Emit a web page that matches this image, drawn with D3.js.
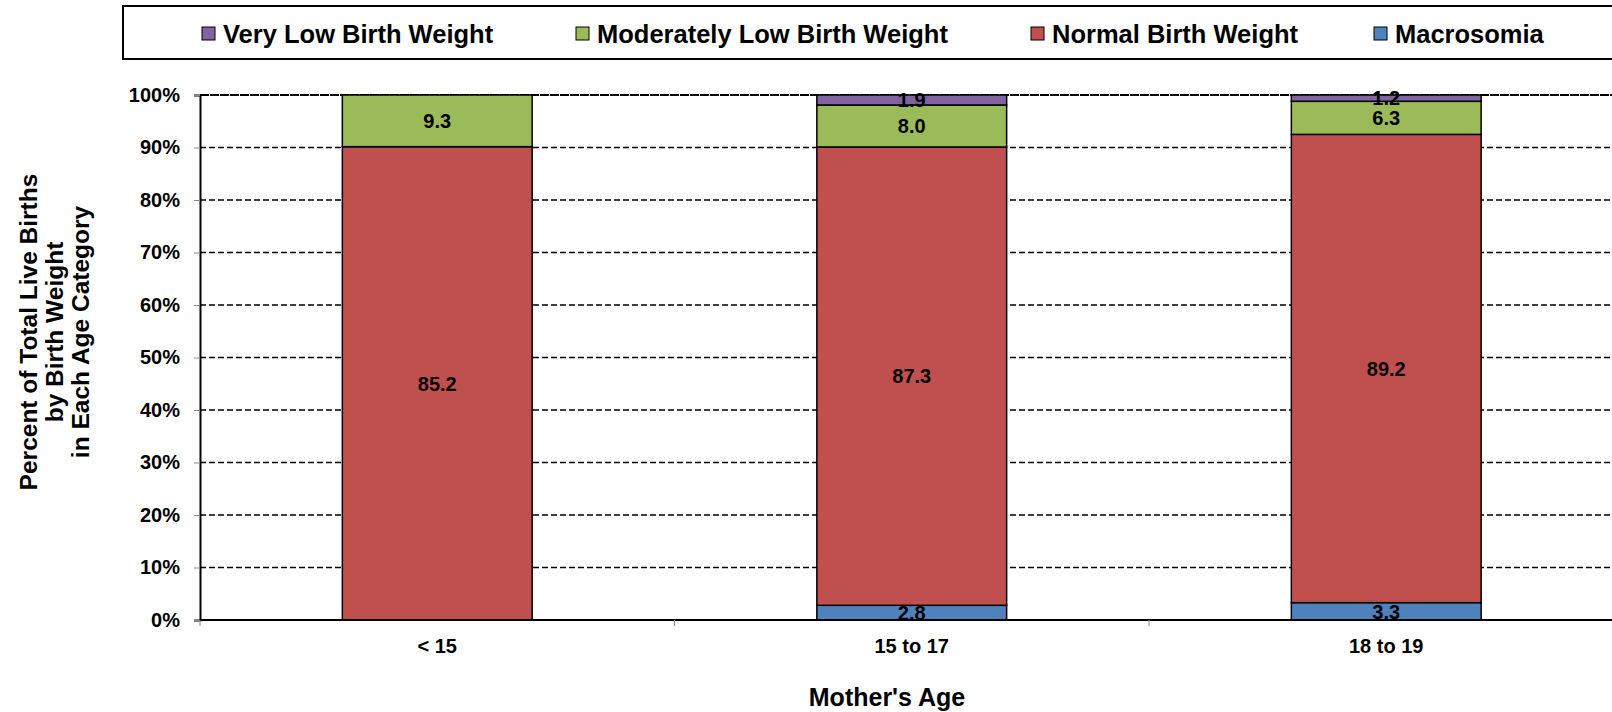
<!DOCTYPE html>
<html><head><meta charset="utf-8">
<script src="https://cdn.jsdelivr.net/npm/d3@7"></script>
<style>body{margin:0;background:#fff;overflow:hidden}svg{display:block}text{font-family:"Liberation Sans",Arial,sans-serif;font-weight:bold}</style>
</head><body>
<svg id="c" width="1612" height="712"></svg>
<script>
const categories = ["< 15", "15 to 17", "18 to 19"];
const seriesNames = ["Macrosomia", "Normal Birth Weight", "Moderately Low Birth Weight", "Very Low Birth Weight"];
const macrosomia = [0, 2.8, 3.3];
const normalBW = [85.2, 87.3, 89.2];
const moderatelyLow = [9.3, 8.0, 6.3];
const veryLow = [0, 1.9, 1.2];
const legendOrder = ["Very Low Birth Weight", "Moderately Low Birth Weight", "Normal Birth Weight", "Macrosomia"];
const colors = {"Very Low Birth Weight":"#8064A2","Moderately Low Birth Weight":"#9BBB59","Normal Birth Weight":"#C0504D","Macrosomia":"#4F81BD"};
const yTicks = [0,0.1,0.2,0.3,0.4,0.5,0.6,0.7,0.8,0.9,1.0];

const rows = categories.map((c,i)=>({cat:c,"Macrosomia":macrosomia[i],"Normal Birth Weight":normalBW[i],"Moderately Low Birth Weight":moderatelyLow[i],"Very Low Birth Weight":veryLow[i]}));
const stack = d3.stack().keys(seriesNames).offset(d3.stackOffsetExpand)(rows);

const svg = d3.select("#c");
const L = 200, R = 1623.5, T = 95, B = 620;
const x = d3.scaleBand().domain(categories).range([L,R]).paddingInner(0.6).paddingOuter(0.3);
const y = d3.scaleLinear().domain([0,1]).range([B,T]);

// legend
svg.append("rect").attr("x",123).attr("y",6).attr("width",1530).attr("height",53).attr("fill","none").attr("stroke","#000").attr("stroke-width",2);
const legX = [223, 597, 1052, 1395];
legendOrder.forEach((n,i)=>{
  svg.append("rect").attr("x",legX[i]-21).attr("y",27).attr("width",13).attr("height",13).attr("fill",colors[n]).attr("stroke","#000").attr("stroke-width",1);
  svg.append("text").attr("x",legX[i]).attr("y",43).attr("font-size",25.5).text(n);
});

// gridlines
svg.append("g").selectAll("line").data(yTicks.filter(t=>t>0)).join("line")
  .attr("x1",L).attr("x2",1612).attr("y1",d=>y(d)).attr("y2",d=>y(d))
  .attr("stroke","#000").attr("stroke-width",d=>d===1?2:1.6).attr("stroke-dasharray",d=>d===1?"9,1":"6,3");

// y axis
const ya = svg.append("g").attr("transform",`translate(${L},0)`).call(d3.axisLeft(y).tickValues(yTicks).tickFormat(d3.format(".0%")).tickSize(6).tickPadding(14));
ya.select(".domain").attr("stroke","#000").attr("stroke-width",2);
ya.selectAll(".tick line").attr("stroke","#888");
ya.selectAll("text").attr("font-size",20).attr("fill","#000").attr("font-family","Liberation Sans, Arial, sans-serif").attr("font-weight","bold");

// bars
const g = svg.append("g");
stack.forEach(s=>{
  g.append("g").selectAll("rect").data(s.filter(d=>d[1]-d[0]>0)).join("rect")
    .attr("x",d=>x(d.data.cat)).attr("width",x.bandwidth())
    .attr("y",d=>y(d[1])).attr("height",d=>y(d[0])-y(d[1]))
    .attr("fill",colors[s.key]).attr("stroke","#000").attr("stroke-width",1.5);
});
stack.forEach(s=>{
  g.append("g").selectAll("text").data(s.filter(d=>d[1]-d[0]>0)).join("text")
    .attr("x",d=>x(d.data.cat)+x.bandwidth()/2).attr("y",d=>(y(d[0])+y(d[1]))/2)
    .attr("dy","0.36em").attr("text-anchor","middle").attr("font-size",20).attr("fill","#000")
    .text(d=>d.data[s.key].toFixed(1));
});

// x axis
svg.append("line").attr("x1",L).attr("x2",1612).attr("y1",B).attr("y2",B).attr("stroke","#000").attr("stroke-width",2);
const bounds = [0,1,2,3].map(i=>L + i*x.step());
svg.append("g").selectAll("line").data(bounds).join("line")
  .attr("x1",d=>d).attr("x2",d=>d).attr("y1",B).attr("y2",B+6).attr("stroke","#888").attr("stroke-width",1);
svg.append("g").selectAll("text").data(categories).join("text")
  .attr("x",d=>x(d)+x.bandwidth()/2).attr("y",653).attr("text-anchor","middle").attr("font-size",20).text(d=>d);

// axis titles
svg.append("text").attr("x",887).attr("y",706).attr("text-anchor","middle").attr("font-size",25).text("Mother's Age");
const yt = svg.append("text").attr("transform","translate(37,332) rotate(-90)").attr("text-anchor","middle").attr("font-size",24.5);
["Percent of Total Live Births","by Birth Weight","in Each Age Category"].forEach((t,i)=>{
  yt.append("tspan").attr("x",0).attr("dy",i===0?0:26).text(t);
});
</script>
</body></html>
